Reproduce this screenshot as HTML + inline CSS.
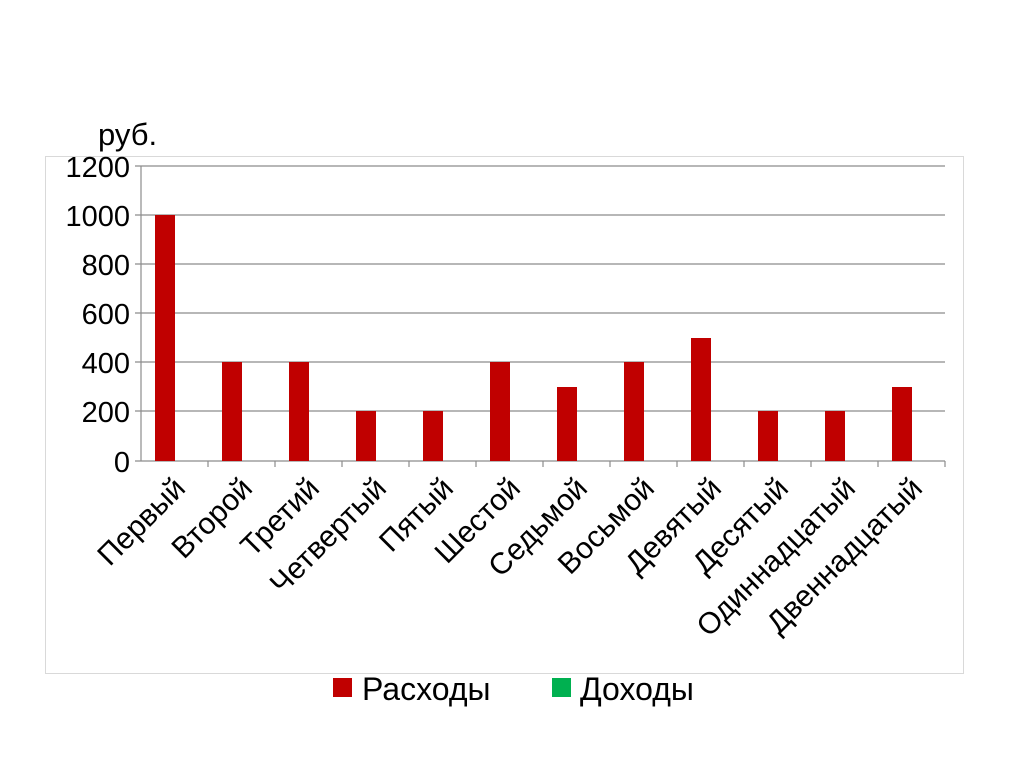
<!DOCTYPE html>
<html><head><meta charset="utf-8"><style>body{margin:0;background:#fff}</style></head>
<body>
<svg width="1024" height="768" xmlns="http://www.w3.org/2000/svg" font-family="Liberation Sans, DejaVu Sans, sans-serif">
<rect x="45.5" y="156.5" width="918" height="517" fill="#fff" stroke="#d9d9d9" stroke-width="1"/>
<text x="98" y="145" font-size="31" fill="#000">руб.</text>
<g stroke="#8c8c8c" stroke-width="1.2">
<line x1="135" y1="166" x2="945" y2="166"/>
<line x1="135" y1="215" x2="945" y2="215"/>
<line x1="135" y1="264" x2="945" y2="264"/>
<line x1="135" y1="313" x2="945" y2="313"/>
<line x1="135" y1="362" x2="945" y2="362"/>
<line x1="135" y1="411" x2="945" y2="411"/>
<line x1="135" y1="461" x2="945" y2="461"/>
<line x1="141" y1="166" x2="141" y2="461"/>
<line x1="208" y1="461" x2="208" y2="467"/><line x1="275" y1="461" x2="275" y2="467"/><line x1="342" y1="461" x2="342" y2="467"/><line x1="409" y1="461" x2="409" y2="467"/><line x1="476" y1="461" x2="476" y2="467"/><line x1="543" y1="461" x2="543" y2="467"/><line x1="610" y1="461" x2="610" y2="467"/><line x1="677" y1="461" x2="677" y2="467"/><line x1="744" y1="461" x2="744" y2="467"/><line x1="811" y1="461" x2="811" y2="467"/><line x1="878" y1="461" x2="878" y2="467"/><line x1="945" y1="461" x2="945" y2="467"/>
</g>
<g font-size="29" text-anchor="end" fill="#000">
<text x="130" y="177">1200</text><text x="130" y="226">1000</text><text x="130" y="275">800</text><text x="130" y="324">600</text><text x="130" y="373">400</text><text x="130" y="422">200</text><text x="130" y="472">0</text>
</g>
<g fill="#c00000">
<rect x="155" y="215" width="20" height="246"/>
<rect x="222" y="362" width="20" height="99"/>
<rect x="289" y="362" width="20" height="99"/>
<rect x="356" y="411" width="20" height="50"/>
<rect x="423" y="411" width="20" height="50"/>
<rect x="490" y="362" width="20" height="99"/>
<rect x="557" y="387" width="20" height="74"/>
<rect x="624" y="362" width="20" height="99"/>
<rect x="691" y="338" width="20" height="123"/>
<rect x="758" y="411" width="20" height="50"/>
<rect x="825" y="411" width="20" height="50"/>
<rect x="892" y="387" width="20" height="74"/>
</g>
<g font-size="30" text-anchor="end" fill="#000">
<text transform="translate(187,490) rotate(-45)">Первый</text>
<text transform="translate(254,490) rotate(-45)">Второй</text>
<text transform="translate(321,490) rotate(-45)">Третий</text>
<text transform="translate(388,490) rotate(-45)">Четвертый</text>
<text transform="translate(455,490) rotate(-45)">Пятый</text>
<text transform="translate(522,490) rotate(-45)">Шестой</text>
<text transform="translate(589,490) rotate(-45)">Седьмой</text>
<text transform="translate(656,490) rotate(-45)">Восьмой</text>
<text transform="translate(723,490) rotate(-45)">Девятый</text>
<text transform="translate(790,490) rotate(-45)">Десятый</text>
<text transform="translate(857,490) rotate(-45)">Одиннадцатый</text>
<text transform="translate(924,490) rotate(-45)">Двеннадцатый</text>
</g>
<rect x="333" y="678" width="19" height="19" fill="#c00000"/>
<text x="362" y="700" font-size="32">Расходы</text>
<rect x="552" y="678" width="19" height="19" fill="#00b050"/>
<text x="580" y="700" font-size="32">Доходы</text>
</svg>
</body></html>
